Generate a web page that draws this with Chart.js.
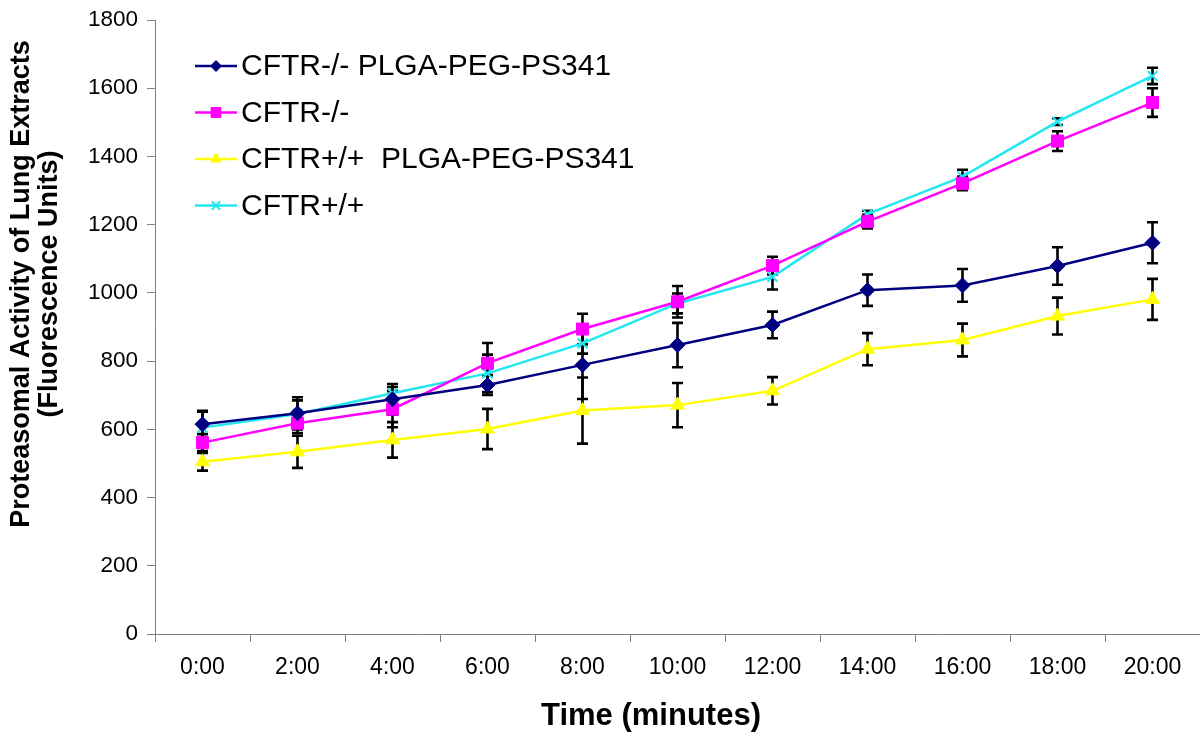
<!DOCTYPE html>
<html>
<head>
<meta charset="utf-8">
<script src="https://cdn.jsdelivr.net/npm/chart.js@4.4.1/dist/chart.umd.min.js"></script>
<style>
  html, body { margin: 0; padding: 0; background: #fff; }
  #wrap { width: 1200px; height: 740px; position: relative; }
</style>
</head>
<body>
<div id="wrap"><canvas id="c" width="1200" height="740"></canvas></div>
<script>
const timeLabels = ['0:00','2:00','4:00','6:00','8:00','10:00','12:00','14:00','16:00','18:00','20:00'];
const seriesNames = ['CFTR-/- PLGA-PEG-PS341', 'CFTR-/-', 'CFTR+/+  PLGA-PEG-PS341', 'CFTR+/+'];
const koPs341 = [615, 647, 688, 730, 789, 847, 906, 1008, 1022, 1079, 1147];
const koPs341Err = [39, 47, 45, 29, 100, 65, 39, 46, 48, 55, 60];
const ko = [561, 618, 659, 794, 894, 974, 1080, 1209, 1321, 1445, 1558];
const koErr = [25, 29, 53, 59, 45, 46, 26, 20, 20, 29, 42];
const wtPs341 = [505, 534, 569, 601, 655, 671, 713, 835, 862, 932, 981];
const wtPs341Err = [26, 47, 52, 59, 97, 65, 40, 47, 48, 54, 60];
const wt = [605, 645, 706, 764, 852, 969, 1047, 1231, 1341, 1502, 1636];
const wtErr = [47, 40, 18, 55, 30, 29, 37, 10, 20, 10, 24];
const yTicks = [0, 200, 400, 600, 800, 1000, 1200, 1400, 1600, 1800];
const yTitle = ['Proteasomal Activity of Lung Extracts', '(Fluorescence Units)'];
const xTitle = 'Time (minutes)';

const errors = [koPs341Err, koErr, wtPs341Err, wtErr];

const SANS = '"Liberation Sans", Arial, sans-serif';

function ds(label, data, color, style, radius, bw, legendRadius) {
  return {
    label, data,
    borderColor: color, backgroundColor: color,
    borderWidth: 2.5,
    pointStyle: style, pointRadius: radius, pointHoverRadius: radius,
    pointBorderWidth: bw, pointBackgroundColor: color, pointBorderColor: color,
    tension: 0, fill: false,
    legendRadius
  };
}

const datasets = [
  ds(seriesNames[0], koPs341, '#000080', 'rectRot', 7.5, 1, 5.5),
  ds(seriesNames[1], ko, '#FF00FF', 'rect', 8.5, 1, 7),
  ds(seriesNames[2], wtPs341, '#FFFF00', 'triangle', 8, 1, 6),
  ds(seriesNames[3], wt, '#22E6F0', 'crossRot', 7, 2, 6)
];

const errorBarPlugin = {
  id: 'errorBars',
  beforeDatasetsDraw(chart) {
    const ctx = chart.ctx;
    const y = chart.scales.y;
    ctx.save();
    ctx.strokeStyle = '#000';
    ctx.lineWidth = 2.6;
    chart.data.datasets.forEach((d, di) => {
      const meta = chart.getDatasetMeta(di);
      const errs = errors[di];
      meta.data.forEach((pt, i) => {
        const v = d.data[i], e = errs[i];
        const x = pt.x;
        const yt = y.getPixelForValue(v + e);
        const yb = y.getPixelForValue(v - e);
        ctx.beginPath();
        ctx.moveTo(x, yt); ctx.lineTo(x, yb);
        ctx.moveTo(x - 5.5, yt); ctx.lineTo(x + 5.5, yt);
        ctx.moveTo(x - 5.5, yb); ctx.lineTo(x + 5.5, yb);
        ctx.stroke();
      });
    });
    ctx.restore();
  }
};

const legendPlugin = {
  id: 'excelLegend',
  afterDraw(chart) {
    const ctx = chart.ctx;
    ctx.save();
    chart.data.datasets.forEach((d, i) => {
      const yy = 66 + i * 46.5;
      ctx.strokeStyle = d.borderColor;
      ctx.lineWidth = 2.5;
      ctx.beginPath();
      ctx.moveTo(195, yy); ctx.lineTo(237, yy);
      ctx.stroke();
      ctx.fillStyle = d.backgroundColor;
      ctx.strokeStyle = d.borderColor;
      ctx.lineWidth = d.pointBorderWidth;
      Chart.helpers.drawPoint(ctx, {pointStyle: d.pointStyle, rotation: 0, radius: d.legendRadius, borderWidth: d.pointBorderWidth}, 216, yy);
      ctx.fillStyle = '#000';
      ctx.font = '30px ' + SANS;
      ctx.textBaseline = 'middle';
      ctx.textAlign = 'left';
      ctx.fillText(d.label, 241, yy + 1);
    });
    ctx.restore();
  }
};

const titlesPlugin = {
  id: 'axisTitles',
  afterDraw(chart) {
    const ctx = chart.ctx;
    ctx.save();
    ctx.fillStyle = '#000';
    ctx.font = 'bold 31px ' + SANS;
    ctx.textAlign = 'center';
    ctx.textBaseline = 'middle';
    ctx.fillText(xTitle, 651, 716);
    ctx.font = 'bold 27px ' + SANS;
    ctx.translate(0, 284);
    ctx.rotate(-Math.PI / 2);
    yTitle.forEach((line, i) => ctx.fillText(line, 0, 22 + i * 28));
    ctx.restore();
  }
};

new Chart(document.getElementById('c'), {
  type: 'line',
  data: { labels: timeLabels, datasets },
  options: {
    responsive: false,
    animation: false,
    devicePixelRatio: 1,
    layout: { autoPadding: false, padding: { top: 20, right: 0, left: 0, bottom: 0 } },
    plugins: { legend: { display: false }, tooltip: { enabled: false } },
    scales: {
      x: {
        type: 'category',
        offset: true,
        grid: { offset: true, drawOnChartArea: false, drawTicks: true, tickLength: 8, color: '#808080', lineWidth: 1 },
        border: { color: '#808080', width: 1 },
        ticks: { color: '#000', font: { family: SANS, size: 23 }, padding: 12, maxRotation: 0, autoSkip: false },
        afterFit(scale) { scale.height = 106; scale.paddingLeft = 0; scale.paddingRight = 0; }
      },
      y: {
        min: 0, max: 1800,
        afterBuildTicks(scale) { scale.ticks = yTicks.map(v => ({ value: v })); },
        grid: { drawOnChartArea: false, drawTicks: true, tickLength: 8, color: '#808080', lineWidth: 1 },
        border: { color: '#808080', width: 1 },
        ticks: { color: '#000', font: { family: SANS, size: 22.5 }, padding: 9, callback: (v) => String(v) },
        title: { display: false },
        afterFit(scale) { scale.width = 155; scale.paddingTop = 0; scale.paddingBottom = 0; }
      }
    }
  },
  plugins: [errorBarPlugin, legendPlugin, titlesPlugin]
});
</script>
</body>
</html>
